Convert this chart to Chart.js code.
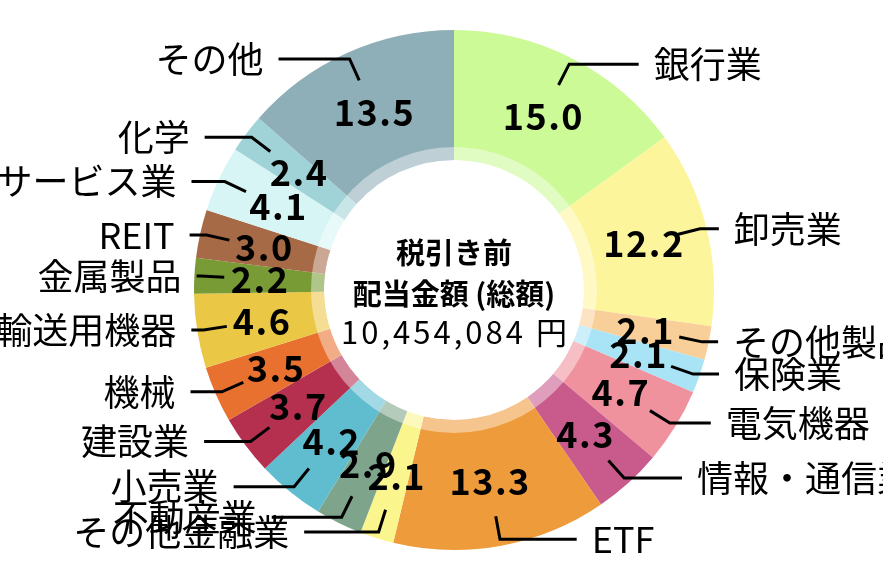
<!DOCTYPE html>
<html>
<head>
<meta charset="utf-8">
<style>
html,body{margin:0;padding:0;background:#ffffff;}
#wrap{width:883px;height:580px;position:relative;}
</style>
<script src="https://cdn.jsdelivr.net/npm/chart.js@4.4.1/dist/chart.umd.min.js"></script>
</head>
<body>
<div id="wrap"><canvas id="c" width="883" height="580"></canvas></div>
<script>
const categories = ['銀行業','卸売業','その他製品','保険業','電気機器','情報・通信業','ETF','その他金融業','不動産業','小売業','建設業','機械','輸送用機器','金属製品','REIT','サービス業','化学','その他'];
const shares = [15.0,12.2,2.1,2.1,4.7,4.3,13.3,2.1,2.9,4.2,3.7,3.5,4.6,2.2,3.0,4.1,2.4,13.5];
const sliceColors = ['#CCFA96','#FDF59B','#F8CF98','#A8E4F6','#EF929E','#C95B8C','#EE9B3B','#FBF58E','#7EA58B','#60BDD0','#B5304F','#E8712F','#EAC745','#789B36','#A66A46','#D7F5F5','#A0D3D7','#8FAFB8'];
const centerLines = ['税引き前','配当金額 (総額)','10,454,084 円'];

const FONT = '"Noto Sans CJK JP", "Noto Sans", sans-serif';

const outLabels = {
  id: 'outLabels',
  afterDatasetsDraw(chart) {
    const ctx = chart.ctx;
    const arcs = chart.getDatasetMeta(0).data;
    if (!arcs.length) return;
    const cx = arcs[0].x, cy = arcs[0].y;
    const R = arcs[0].outerRadius, hole = arcs[0].innerRadius;
    ctx.save();
    // translucent inner ring
    ctx.beginPath();
    ctx.arc(cx, cy, R * 0.55, 0, Math.PI * 2);
    ctx.arc(cx, cy, hole, 0, Math.PI * 2, true);
    ctx.fillStyle = 'rgba(255,255,255,0.42)';
    ctx.fill('evenodd');

    const labelR = R - (R - hole) / 2;
    arcs.forEach((arc, i) => {
      const mid = (arc.startAngle + arc.endAngle) / 2;
      const c = Math.cos(mid), s = Math.sin(mid);
      const r0 = hole + (R - hole) * 0.77;
      const r1 = labelR * 1.3;
      const x0 = cx + r0 * c, y0 = cy + r0 * s;
      const x1 = cx + r1 * c, y1 = cy + r1 * s;
      const len2 = labelR * 0.4 * Math.abs(s);
      const left = c < 0;
      const x2 = x1 + (left ? -len2 : len2), y2 = y1;
      ctx.beginPath();
      ctx.moveTo(x0, y0);
      ctx.lineTo(x1, y1);
      ctx.lineTo(x2, y2);
      ctx.strokeStyle = '#000';
      ctx.lineWidth = 3;
      ctx.lineJoin = 'miter';
      ctx.stroke();
      ctx.letterSpacing = '0px';
      ctx.font = '36px ' + FONT;
      ctx.fillStyle = '#000';
      ctx.textAlign = left ? 'right' : 'left';
      ctx.textBaseline = 'middle';
      ctx.fillText(categories[i], x2 + (left ? -15 : 15), y2);
      ctx.font = 'bold 36px ' + FONT;
      ctx.letterSpacing = '1.5px';
      ctx.textAlign = 'center';
      ctx.fillText(shares[i].toFixed(1), cx + labelR * c + 0.75, cy + labelR * s);
    });

    // centre text
    ctx.fillStyle = '#000';
    ctx.textAlign = 'center';
    ctx.textBaseline = 'middle';
    ctx.letterSpacing = '0px';
    ctx.font = 'bold 29px ' + FONT;
    ctx.fillText(centerLines[0], cx, cy - 37);
    ctx.fillText(centerLines[1], cx, cy + 4);
    ctx.font = '31px ' + FONT;
    ctx.letterSpacing = '3px';
    ctx.fillText(centerLines[2], cx + 1.5, cy + 42);
    ctx.restore();
  }
};

new Chart(document.getElementById('c'), {
  type: 'doughnut',
  data: {
    labels: categories,
    datasets: [{
      data: shares,
      backgroundColor: sliceColors,
      borderWidth: 0,
      hoverOffset: 0,
      offset: 0
    }]
  },
  options: {
    responsive: false,
    animation: false,
    cutout: '50%',
    layout: { padding: { top: 30, bottom: 30, left: 194, right: 169 } },
    plugins: { legend: { display: false }, tooltip: { enabled: false } },
    events: []
  },
  plugins: [outLabels]
});
</script>
</body>
</html>
